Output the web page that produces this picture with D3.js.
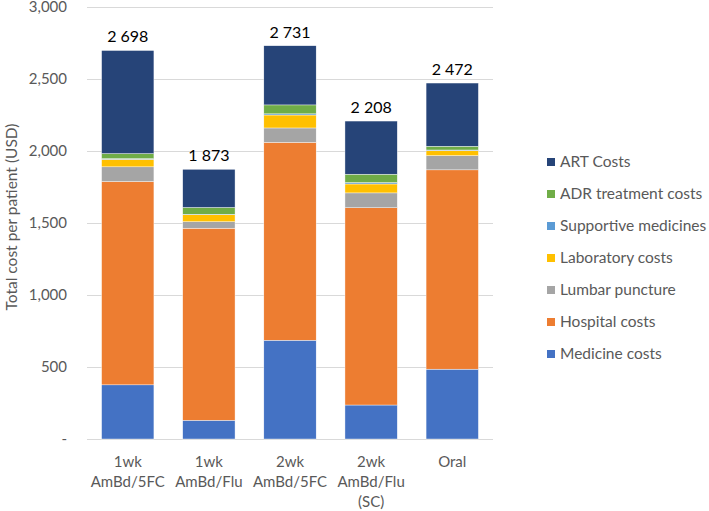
<!DOCTYPE html>
<html>
<head>
<meta charset="utf-8">
<script src="https://cdn.jsdelivr.net/npm/d3@7"></script>
<style>
  body { margin: 0; background: #fff; }
  svg text { font-family: Lato, "Open Sans", sans-serif; }
</style>
</head>
<body>
<svg id="chart" width="709" height="511"></svg>
<script>
const categories = [["1wk", "AmBd/5FC"], ["1wk", "AmBd/Flu"], ["2wk", "AmBd/5FC"], ["2wk", "AmBd/Flu", "(SC)"], ["Oral"]];
const seriesNames = ["Medicine costs", "Hospital costs", "Lumbar puncture", "Laboratory costs", "Supportive medicines", "ADR treatment costs", "ART Costs"];
const seriesColors = ["#4472C4", "#ED7D31", "#A5A5A5", "#FFC000", "#5B9BD5", "#70AD47", "#264478"];
const medicine = [376, 130, 686, 236, 485];
const hospital = [1412, 1334, 1374, 1370, 1384];
const lumbar = [102, 45, 100, 103, 99];
const laboratory = [52, 48, 90, 62, 35];
const supportive = [5, 4, 8, 10, 4];
const adr = [35, 47, 62, 58, 26];
const art = [716, 265, 411, 369, 439];
const totalLabels = ["2 698", "1 873", "2 731", "2 208", "2 472"];
const yTicks = [0, 500, 1000, 1500, 2000, 2500, 3000];

(function (d3) {
    'use strict';

    const svg = d3.select("#chart");
    const margin = {left: 87, right: 216, top: 7, bottom: 72};
    const width = 709 - margin.left - margin.right;
    const height = 511 - margin.top - margin.bottom;

    const values = [medicine, hospital, lumbar, laboratory, supportive, adr, art];
    const rows = categories.map((c, i) => {
        let row = {idx: i};
        seriesNames.forEach((s, j) => row[s] = values[j][i]);
        return row;
    });
    const stacked = d3.stack().keys(seriesNames)(rows);

    const x = d3.scaleBand().domain(d3.range(categories.length)).range([0, width]).paddingInner(0.355).paddingOuter(0.18);
    const y = d3.scaleLinear().domain([0, 3000]).range([height, 0]);

    const g = svg.append("g").attr("transform", `translate(${margin.left},${margin.top})`);

    // gridlines
    g.append("g")
        .selectAll("line")
        .data(yTicks)
        .enter()
        .append("line")
        .attr("x1", 0)
        .attr("x2", width)
        .attr("y1", d => y(d) + 0.5)
        .attr("y2", d => y(d) + 0.5)
        .style("stroke", "#D9D9D9")
        .style("stroke-width", 1);

    // y axis labels
    const yAxis = d3.axisLeft(y).tickValues(yTicks).tickSize(0).tickPadding(20)
        .tickFormat(d => d === 0 ? "-" : d3.format(",")(d));
    g.append("g").call(yAxis)
        .call(a => a.select(".domain").remove())
        .selectAll("text")
        .style("font-size", "15px")
        .style("fill", "#595959");

    // bars
    g.append("g")
        .selectAll("g")
        .data(stacked)
        .enter()
        .append("g")
        .style("fill", (d, i) => seriesColors[i])
        .selectAll("rect")
        .data(d => d)
        .enter()
        .append("rect")
        .attr("x", d => x(d.data.idx))
        .attr("width", x.bandwidth())
        .attr("y", d => y(d[1]))
        .attr("height", d => y(d[0]) - y(d[1]))
        .style("stroke", "#fff")
        .style("stroke-width", 0.4);

    // total labels
    const tops = stacked[stacked.length - 1];
    g.append("g")
        .selectAll("text")
        .data(tops)
        .enter()
        .append("text")
        .attr("x", d => x(d.data.idx) + x.bandwidth() / 2)
        .attr("y", d => y(d[1]) - 8)
        .attr("text-anchor", "middle")
        .style("font-size", "16px")
        .style("fill", "#000")
        .text((d, i) => totalLabels[i]);

    // category labels
    const cat = g.append("g")
        .selectAll("text")
        .data(categories)
        .enter()
        .append("text")
        .attr("x", (d, i) => x(i) + x.bandwidth() / 2)
        .attr("y", height + 28)
        .attr("text-anchor", "middle")
        .style("font-size", "15px")
        .style("fill", "#595959");
    cat.selectAll("tspan")
        .data(d => d)
        .enter()
        .append("tspan")
        .attr("x", function () { return this.parentNode.getAttribute("x"); })
        .attr("dy", (d, i) => i === 0 ? 0 : 20)
        .text(d => d);

    // y axis title
    svg.append("text")
        .attr("transform", `translate(12,${margin.top + height / 2 - 6}) rotate(-90)`)
        .attr("text-anchor", "middle")
        .attr("dy", "0.35em")
        .style("font-size", "15.5px")
        .style("fill", "#595959")
        .text("Total cost per patient (USD)");

    // legend, top to bottom in reverse stack order
    const legend = svg.append("g")
        .selectAll("g")
        .data(seriesNames.slice().reverse())
        .enter()
        .append("g")
        .attr("transform", (d, i) => `translate(547,${162 + i * 32})`);
    legend.append("rect")
        .attr("x", 0)
        .attr("y", -4)
        .attr("width", 8)
        .attr("height", 8)
        .style("fill", d => seriesColors[seriesNames.indexOf(d)]);
    legend.append("text")
        .attr("x", 13)
        .attr("dy", "0.35em")
        .style("font-size", "15.5px")
        .style("fill", "#595959")
        .text(d => d);

}(d3));
</script>
</body>
</html>
